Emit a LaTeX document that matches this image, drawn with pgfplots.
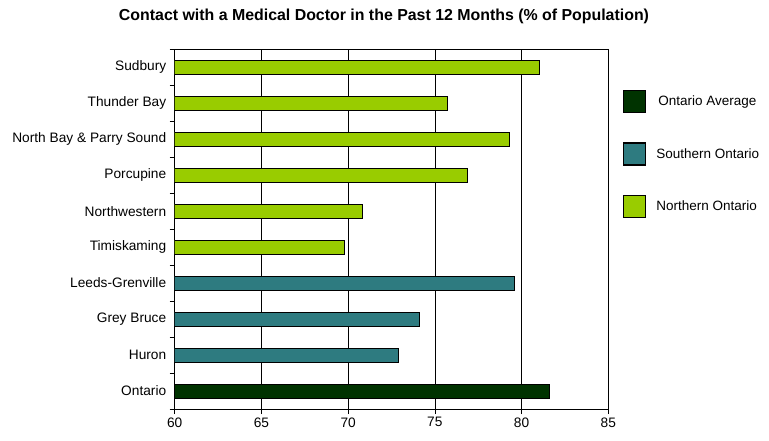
\documentclass[border=0pt]{standalone}
\usepackage{fontspec}
\setmainfont{Liberation Sans}
\usepackage{pgfplots}
\pgfplotsset{compat=1.18}
\definecolor{dgreen}{HTML}{003300}
\definecolor{tealc}{HTML}{2E7B80}
\definecolor{lgreen}{HTML}{99CC00}
\begin{document}
\begin{tikzpicture}
\path[use as bounding box] (-174.7bp,-32bp) rectangle (594.3bp,409bp);
\node[font=\fontsize{15.9bp}{18bp}\selectfont\bfseries] at (209.3bp,392.5bp) {Contact with a Medical Doctor in the Past 12 Months (\% of Population)};
\begin{axis}[
  scale only axis, width=433.6bp, height=359.7bp,
  at={(0,0)}, anchor=south west,
  xbar, bar width=14bp, bar shift=0pt,
  xmin=60, xmax=85, ymin=-0.5, ymax=9.5,
  xtick={60,65,...,85},
  ytick={0,...,9},
  yticklabels={Ontario,Huron,Grey Bruce,Leeds-Grenville,Timiskaming,Northwestern,Porcupine,North Bay \& Parry Sound,Thunder Bay,Sudbury},
  minor ytick={-0.5,0.5,...,9.5},
  tick pos=left, tick align=outside,
  major tick length=5bp, minor tick length=5bp,
  every major y tick/.append style={draw=none},
  every minor y tick/.append style={black, line width=0.6bp},
  every major x tick/.append style={black, line width=0.6bp},
  xmajorgrids,
  major grid style={black, line width=0.6bp},
  axis line style={black, line width=0.6bp},
  /pgf/number format/assume math mode=true,
  tick label style={font=\fontsize{13.7bp}{15bp}\selectfont},
  legend style={at={(1.034,0.887)}, anchor=north west, draw=none, fill=none,
    inner sep=0pt, row sep=29bp, font=\fontsize{13.5bp}{15bp}\selectfont,
    nodes={inner sep=2bp}},
  legend cell align=left,
  legend image code/.code={\draw[#1, draw=black, line width=1.2bp] (0bp,-11bp) rectangle (22bp,11bp);},
]
\addplot[fill=dgreen, draw=black, line width=0.8bp] coordinates {(81.6,0)};
\addplot[fill=tealc, draw=black, line width=0.8bp] coordinates {(72.9,1) (74.1,2) (79.6,3)};
\addplot[fill=lgreen, draw=black, line width=0.8bp] coordinates {(69.8,4) (70.8,5) (76.9,6) (79.3,7) (75.7,8) (81.0,9)};
\legend{\hspace*{10bp}Ontario Average, \hspace*{8bp}Southern Ontario, \hspace*{8bp}Northern Ontario}
\end{axis}
\end{tikzpicture}
\end{document}
